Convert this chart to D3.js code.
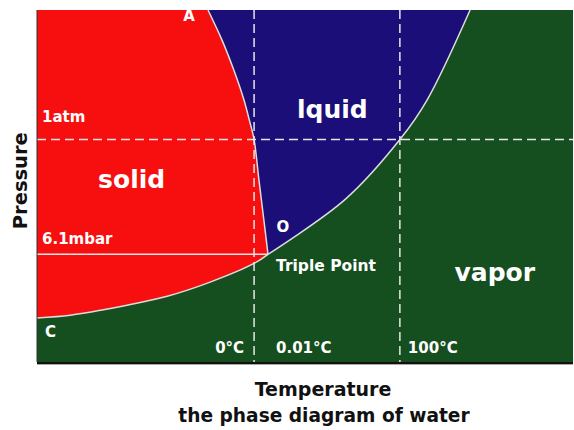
<!DOCTYPE html>
<html>
<head>
<meta charset="utf-8">
<title>Phase diagram of water</title>
<script src="https://d3js.org/d3.v7.min.js"></script>
<style>
    body { margin: 0; background: #fff; }
    .region-label { fill: #fff; font-family: "DejaVu Sans", Verdana, sans-serif; font-weight: bold; }
    .axis-title { fill: #111; font-family: "DejaVu Sans", Verdana, sans-serif; font-weight: bold; }
    .boundary { fill: none; stroke: #dcdcdc; stroke-width: 1.5px; }
    .guide { stroke: #e6e6e6; stroke-width: 1.5px; stroke-dasharray: 9,5; }
</style>
</head>
<body>
<svg width="574" height="430"></svg>
<script>

    // schematic units: temperature 0..100 across, pressure 0..100 up
    var meltCurve = [[31.9,100],[34.5,91.5],[36.7,83.0],[38.6,74.5],[39.6,68.8],[40.5,63.2],[41.4,51.8],[42.2,41.9],[43.1,30.6]];
    var vapCurve  = [[43.1,30.6],[57.5,46.2],[67.7,63.2],[72.8,74.5],[80.8,100]];
    var subCurve  = [[0,12.5],[6.2,13.3],[11.8,14.7],[24.3,18.7],[32.3,22.7],[40.5,28.0],[43.1,30.6]];

    var tempMarks = [
        {label: "0°C", t: 40.5, dashed: true},
        {label: "0.01°C", t: 43.1, dashed: false},
        {label: "100°C", t: 67.7, dashed: true}
    ];
    var pressMarks = [
        {label: "1atm", p: 63.2, dashed: true},
        {label: "6.1mbar", p: 30.6, dashed: false}
    ];
    var triplePoint = [43.1, 30.6];

    var svg = d3.select("svg"),
        margin = {top: 10, right: 1, bottom: 68, left: 37},
        width = +svg.attr("width") - margin.left - margin.right,
        height = +svg.attr("height") - margin.top - margin.bottom;

    var x = d3.scaleLinear().domain([0, 100]).range([0, width]);
    var y = d3.scaleLinear().domain([0, 100]).range([height, 0]);

    var g = svg.append("g").attr("transform", "translate(" + margin.left + "," + margin.top + ")");

    var line = d3.line()
        .x(function(d) { return x(d[0]); })
        .y(function(d) { return y(d[1]); })
        .curve(d3.curveCatmullRom.alpha(0.5));

    var area = d3.area()
        .x(function(d) { return x(d[0]); })
        .y0(y(0))
        .y1(function(d) { return y(d[1]); })
        .curve(d3.curveCatmullRom.alpha(0.5));

    // vapor background
    g.append("rect")
        .attr("width", width).attr("height", height)
        .attr("fill", "#164f1f");

    // solid: left of melting curve
    g.append("path")
        .attr("d", line(meltCurve) + "L" + x(triplePoint[0]) + "," + y(0) + "L" + x(0) + "," + y(0) + "L" + x(0) + "," + y(100) + "Z")
        .attr("fill", "#f70f0f");

    // liquid: between melting and vaporization curves
    g.append("path")
        .attr("d", line(meltCurve) + line(vapCurve).replace(/^M/, "L") + "Z")
        .attr("fill", "#1c0e79");

    // vapor below sublimation curve
    g.append("path")
        .attr("d", area(subCurve))
        .attr("fill", "#164f1f");

    [meltCurve, vapCurve, subCurve].forEach(function(c) {
        g.append("path").attr("class", "boundary").attr("d", line(c));
    });

    // temperature guides
    tempMarks.filter(function(d) { return d.dashed; }).forEach(function(d) {
        g.append("line").attr("class", "guide")
            .attr("x1", x(d.t)).attr("x2", x(d.t))
            .attr("y1", 0).attr("y2", height);
    });

    // pressure guides
    pressMarks.forEach(function(d) {
        var l = g.append("line")
            .attr("x1", 0)
            .attr("x2", d.dashed ? width : x(triplePoint[0]))
            .attr("y1", y(d.p)).attr("y2", y(d.p));
        if (d.dashed) {
            l.attr("class", "guide");
        } else {
            l.attr("stroke", "#e6e6e6").attr("stroke-width", 1.5);
        }
    });

    function label(text, px, py, size, anchor) {
        return g.append("text").attr("class", "region-label")
            .attr("x", px).attr("y", py)
            .attr("font-size", size)
            .attr("text-anchor", anchor || "start")
            .text(text);
    }

    // pressure labels above their lines
    label(pressMarks[0].label, 5, y(pressMarks[0].p) - 18, 15);
    label(pressMarks[1].label, 5, y(pressMarks[1].p) - 10, 15);

    // temperature labels along the bottom
    label(tempMarks[0].label, x(tempMarks[0].t) - 10, height - 9, 15, "end");
    label(tempMarks[1].label, x(tempMarks[1].t) + 8, height - 9, 15);
    label(tempMarks[2].label, x(tempMarks[2].t) + 8, height - 9, 15);

    // region names
    label("solid", x(11.4), y(49.4), 25);
    label("lquid", x(48.5), y(69.4), 25);
    label("vapor", x(77.9), y(23.0), 25);

    // point labels
    label("A", x(27.3), y(96.9), 15);
    label("C", x(1.5), y(7.1), 15);
    label("O", x(44.7), y(36.9), 15);
    label("Triple Point", x(44.6), y(25.9), 15.5);

    // axes
    g.append("line")
        .attr("x1", 0).attr("x2", 0).attr("y1", 0).attr("y2", height)
        .attr("stroke", "#333").attr("stroke-width", 1);
    g.append("line")
        .attr("x1", 0).attr("x2", width).attr("y1", height + 1).attr("y2", height + 1)
        .attr("stroke", "#111").attr("stroke-width", 2);
    g.append("line")
        .attr("x1", 0).attr("x2", width).attr("y1", height + 2.5).attr("y2", height + 2.5)
        .attr("stroke", "#aaa").attr("stroke-width", 1);

    svg.append("text").attr("class", "axis-title")
        .attr("transform", "translate(27," + (margin.top + y(51.5)) + ") rotate(-90)")
        .attr("text-anchor", "middle")
        .attr("font-size", 19.5)
        .text("Pressure");

    svg.append("text").attr("class", "axis-title")
        .attr("x", 323).attr("y", 396)
        .attr("text-anchor", "middle")
        .attr("font-size", 19)
        .text("Temperature");

    svg.append("text").attr("class", "axis-title")
        .attr("x", 324).attr("y", 422)
        .attr("text-anchor", "middle")
        .attr("font-size", 18.6)
        .text("the phase diagram of water");

</script>
</body>
</html>
